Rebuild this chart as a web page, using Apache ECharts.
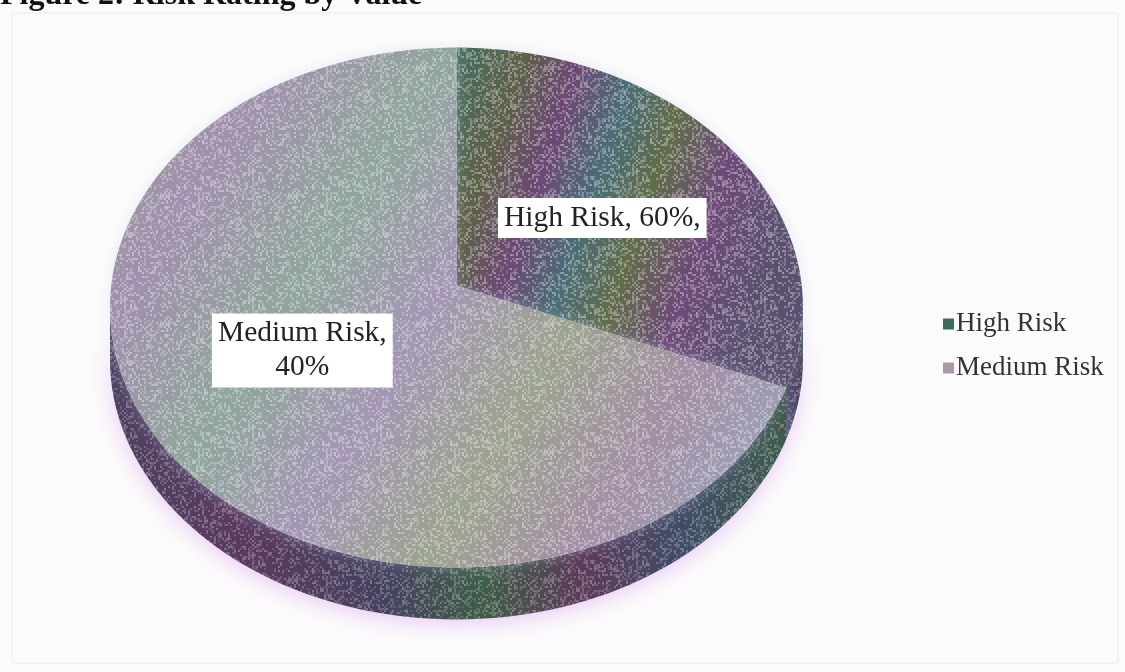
<!DOCTYPE html>
<html><head><meta charset="utf-8">
<script src="https://cdn.jsdelivr.net/npm/echarts@6/dist/echarts.min.js"></script>
<style>html,body{margin:0;padding:0;background:#fcfbfc}#c{width:1125px;height:672px}</style>
</head><body><div id="c"></div>
<script>
// ---- data ----
const categories = ['High Risk', 'Medium Risk'];
const sliceValues = [30, 70];            // slice sizes as drawn in the picture
const labelPercents = ['60%', '40%'];    // percentages printed on the data labels
const labelSeparators = [', ', ',\n'];   // how name and percent are joined in each label
const labelSuffixes = [',', ''];
const titleText = 'Figure 2: Risk Rating by Value';

// ---- style / geometry ----
const CX = 456.5, CY = 307.5, RX = 346.5, RY = 260, DEPTH = 52, APEX_DY = -22;
const START_DEG = -90;
const labelFrac = [0.52, 0.55];
const labelOffset = [[0, -10], [0, -41]];
const legendColors = ['#3d6b5f', '#a898a8'];
const topFills = [
  {type:'linear', x:0, y:0, x2:1, y2:0.35, colorStops:[
    {offset:0, color:'#436e60'},{offset:0.18, color:'#5e6048'},{offset:0.33, color:'#6c4874'},
    {offset:0.48, color:'#4a6d76'},{offset:0.63, color:'#616c4a'},{offset:0.8, color:'#6d4a78'},{offset:1, color:'#5b5070'}]},
  {type:'linear', x:0, y:0, x2:1, y2:0.8, colorStops:[
    {offset:0, color:'#93a08e'},{offset:0.18, color:'#a18fad'},{offset:0.36, color:'#90a69c'},
    {offset:0.52, color:'#a396b3'},{offset:0.68, color:'#9ca38f'},{offset:0.84, color:'#a38ea5'},{offset:1, color:'#9aa2b6'}]}
];
const wallFills = [
  {type:'linear', x:0, y:0, x2:0, y2:1, colorStops:[
    {offset:0, color:'#3f5a4e'},{offset:0.5, color:'#4b3f5e'},{offset:1, color:'#3e4f6a'}]},
  {type:'linear', x:0, y:0, x2:1, y2:0, colorStops:[
    {offset:0, color:'#4d4060'},{offset:0.2, color:'#5a3a5e'},{offset:0.4, color:'#45405e'},
    {offset:0.55, color:'#3f5c48'},{offset:0.7, color:'#5c3a58'},{offset:0.85, color:'#3f4d68'},{offset:1, color:'#3f5a4a'}]}
];

// speckle texture (deterministic integer hash, style only)
function hash2(x, y) {
  let h = Math.imul(x, 374761393) + Math.imul(y, 668265263);
  h = Math.imul(h ^ (h >>> 13), 1274126177);
  h = h ^ (h >>> 16);
  return (h >>> 0) / 4294967296;
}
function makeSpeckle() {
  const cv = document.createElement('canvas'); cv.width = 128; cv.height = 128;
  const g = cv.getContext('2d');
  for (let y = 0; y < 64; y++) for (let x = 0; x < 64; x++) {
    const h = hash2(x, y);
    if (h > 0.62) { g.fillStyle = 'rgba(255,255,255,' + (0.15 + (h - 0.62) * 1.0).toFixed(2) + ')'; g.fillRect(x * 2, y * 2, 2, 2); }
  }
  return cv;
}
const speckle = makeSpeckle();

const total = sliceValues.reduce((a, b) => a + b, 0);
function angles(i) {
  let s = 0; for (let k = 0; k < i; k++) s += sliceValues[k];
  const a0 = START_DEG + s / total * 360;
  return [a0, a0 + sliceValues[i] / total * 360];
}
function pt(deg, dy) { const r = deg * Math.PI / 180; return [CX + RX * Math.cos(r), CY + RY * Math.sin(r) + (dy || 0)]; }
function arcPts(a0, a1, dy) {
  const n = Math.max(2, Math.ceil(Math.abs(a1 - a0) / 2)); const out = [];
  for (let j = 0; j <= n; j++) out.push(pt(a0 + (a1 - a0) * j / n, dy));
  return out;
}

function renderSlice(params, api) {
  const i = params.seriesIndex;
  const [a0, a1] = angles(i);
  const children = [];
  [[0, 180], [360, 540]].forEach(([r0, r1]) => {
    const s = Math.max(a0, r0), e = Math.min(a1, r1);
    if (e > s) {
      const pts = arcPts(s, e, 0).concat(arcPts(e, s, DEPTH));
      children.push({type:'polygon', shape:{points: pts},
        style:{fill: wallFills[i], shadowBlur: 22, shadowColor:'rgba(215,160,235,0.55)', shadowOffsetY: 4}});
      children.push({type:'polygon', shape:{points: pts}, style:{fill: {image: speckle, repeat: 'repeat'}, opacity: 0.55}});
    }
  });
  const topPts = [[CX, CY + APEX_DY]].concat(arcPts(a0, a1, 0));
  children.push({type:'polygon', shape:{points: topPts},
    style:{fill: topFills[i], shadowBlur: 14, shadowColor:'rgba(180,200,230,0.35)'}});
  children.push({type:'polygon', shape:{points: topPts}, style:{fill: {image: speckle, repeat: 'repeat'}, opacity: 0.75}});
  const mid = (a0 + a1) / 2 * Math.PI / 180;
  const lx = CX + labelFrac[i] * RX * Math.cos(mid) + labelOffset[i][0];
  const ly = CY + labelFrac[i] * RY * Math.sin(mid) + labelOffset[i][1];
  children.push({type:'text', z2: 10, style:{
    text: categories[i] + labelSeparators[i] + labelPercents[i] + labelSuffixes[i],
    x: lx, y: ly, align:'center', verticalAlign:'middle',
    font: '29.5px "Liberation Serif", "Times New Roman", serif', fill:'#222',
    lineHeight: 34, backgroundColor:'#ffffff', padding:[3, 6, 3, 6]}});
  return {type:'group', children};
}

const chart = echarts.init(document.getElementById('c'));
const option = {
  backgroundColor: '#fcfbfc',
  animation: false,
  title: {text: titleText, left: 0, top: -20, padding: 0,
    textStyle: {fontFamily: '"Liberation Serif", serif', fontWeight: 'bold', fontSize: 32, color: '#111'}},
  legend: {orient: 'vertical', left: 938, top: 304, itemWidth: 11, itemHeight: 11, itemGap: 14,
    icon: 'rect',
    data: categories.map((c, i) => ({name: c, itemStyle: {color: legendColors[i]}})),
    textStyle: {fontFamily: '"Liberation Serif", serif', fontSize: 27, color: '#333', lineHeight: 30, padding: [0, 0, 0, -3]}},
  graphic: [{type: 'rect', shape: {x: 12, y: 13, width: 1106, height: 650}, silent: true,
    style: {fill: 'none', stroke: '#ececec', lineWidth: 1}}],
  series: categories.map((c, i) => ({
    type: 'custom', name: c, coordinateSystem: 'none', silent: true,
    itemStyle: {color: legendColors[i]},
    data: [{name: c, value: sliceValues[i]}],
    renderItem: renderSlice
  }))
};
chart.setOption(option);
</script></body></html>
